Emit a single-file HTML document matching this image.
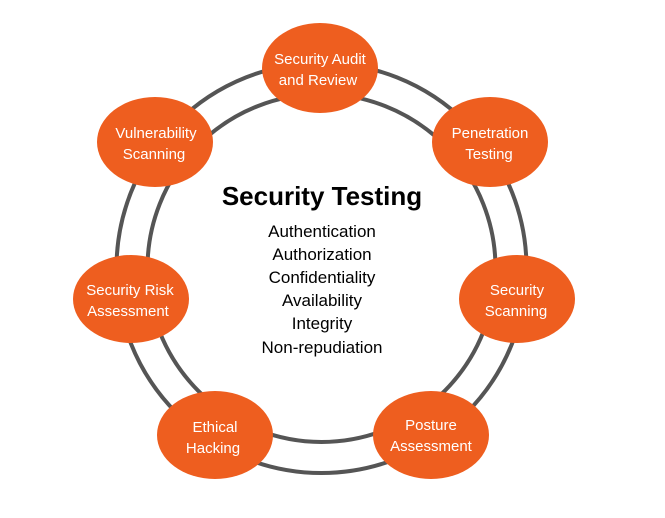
<!DOCTYPE html>
<html><head><style>
body{margin:0;background:#fff;}
svg{display:block;font-family:"Liberation Sans",sans-serif;}
</style></head><body>
<svg width="665" height="518" viewBox="0 0 665 518">
<circle cx="321.5" cy="268" r="205" fill="none" stroke="#555" stroke-width="4"/>
<circle cx="321.5" cy="268" r="174" fill="none" stroke="#555" stroke-width="4"/>
<g fill="#EE5E1F">
<ellipse cx="320" cy="68" rx="58" ry="45"/>
<ellipse cx="155" cy="142" rx="58" ry="45"/>
<ellipse cx="490" cy="142" rx="58" ry="45"/>
<ellipse cx="131" cy="299" rx="58" ry="44"/>
<ellipse cx="517" cy="299" rx="58" ry="44"/>
<ellipse cx="215" cy="435" rx="58" ry="44"/>
<ellipse cx="431" cy="435" rx="58" ry="44"/>
</g>
<g fill="#fff" font-size="15" text-anchor="middle">
<text x="320" y="64">Security Audit</text><text x="318" y="85">and Review</text>
<text x="156" y="138">Vulnerability</text><text x="154" y="159">Scanning</text>
<text x="490" y="138">Penetration</text><text x="489" y="159">Testing</text>
<text x="130" y="295">Security Risk</text><text x="128" y="316">Assessment</text>
<text x="517" y="295">Security</text><text x="516" y="316">Scanning</text>
<text x="215" y="432">Ethical</text><text x="213" y="453">Hacking</text>
<text x="431" y="430">Posture</text><text x="431" y="451">Assessment</text>
</g>
<text x="322" y="205" font-size="26" font-weight="bold" text-anchor="middle" fill="#000">Security Testing</text>
<g font-size="17" text-anchor="middle" fill="#000">
<text x="322" y="237">Authentication</text>
<text x="322" y="260">Authorization</text>
<text x="322" y="283">Confidentiality</text>
<text x="322" y="306">Availability</text>
<text x="322" y="329">Integrity</text>
<text x="322" y="353">Non-repudiation</text>
</g>
</svg>
</body></html>
